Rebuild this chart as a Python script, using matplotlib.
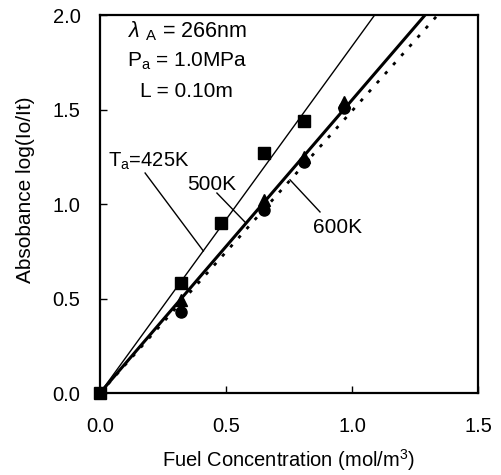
import matplotlib
matplotlib.use("Agg")
import matplotlib.pyplot as plt

plt.rcParams["font.family"] = ["Liberation Sans", "DejaVu Sans"]
plt.rcParams["mathtext.fontset"] = "custom"
plt.rcParams["mathtext.rm"] = "Liberation Sans"
plt.rcParams["mathtext.it"] = "Liberation Sans:italic"

# measured points
conc_425 = [0.0, 0.32, 0.48, 0.65, 0.81]
abs_425 = [0.0, 0.58, 0.90, 1.27, 1.44]
conc_500 = [0.32, 0.65, 0.81, 0.97]
abs_500 = [0.49, 1.02, 1.25, 1.54]
conc_600 = [0.32, 0.65, 0.81, 0.97]
abs_600 = [0.43, 0.97, 1.22, 1.51]

# fitted lines (end points)
fit_425_x = [0.0, 1.09]
fit_425_y = [0.0, 2.0]
fit_500_x = [0.0, 1.29]
fit_500_y = [0.0, 2.0]
fit_600_x = [0.0, 1.34]
fit_600_y = [0.0, 2.0]

xticks = [0.0, 0.5, 1.0, 1.5]
yticks = [0.0, 0.5, 1.0, 1.5, 2.0]

fig = plt.figure(figsize=(5.01, 4.75), dpi=100)
ax = fig.add_axes([0.1996, 0.1726, 0.7545, 0.7958])

ax.plot(fit_425_x, fit_425_y, color="black", linewidth=1.0)
ax.plot(fit_500_x, fit_500_y, color="black", linewidth=2.2)
ax.plot(fit_600_x, fit_600_y, color="black", linewidth=2.0, linestyle=(0, (1.2, 3.2)))

ax.plot(conc_425, abs_425, "s", color="black", markersize=8, clip_on=False)
ax.plot(conc_500, abs_500, "^", color="black", markersize=8)
ax.plot(conc_600, abs_600, "o", color="black", markersize=8)

ax.set_xlim(0, 1.5)
ax.set_ylim(0, 2.0)
ax.set_xticks(xticks)
ax.set_yticks(yticks)
ax.set_xticklabels([f"{v:.1f}" for v in xticks], fontsize=14.5)
ax.set_yticklabels([f"{v:.1f}" for v in yticks], fontsize=14.5)
ax.tick_params(direction="in", length=5, width=1, pad=14)
ax.tick_params(axis="x", pad=17)
for side in ax.spines.values():
    side.set_linewidth(1.6)

ax.set_xlabel("Fuel Concentration (mol/m$^3$)", fontsize=14.5)
ax.xaxis.set_label_coords(0.5, -0.143)
ax.set_ylabel("Absobance log(Io/It)", fontsize=15)
ax.yaxis.set_label_coords(-0.172, 0.537)

ax.text(0.111, 1.884, r"$\lambda$ $_{\rm A}$ = 266nm", fontsize=15.5, ha="left", va="baseline")
ax.text(0.107, 1.725, r"P$_{\rm a}$ = 1.0MPa", fontsize=15, ha="left", va="baseline")
ax.text(0.159, 1.566, "L = 0.10m", fontsize=15, ha="left", va="baseline")

ax.text(0.032, 1.196, r"T$_{\rm a}$=425K", fontsize=14.5, ha="left", va="baseline")
ax.plot([0.179, 0.41], [1.164, 1.833 * 0.41], color="black", linewidth=1.0)
ax.text(0.345, 1.074, "500K", fontsize=15, ha="left", va="baseline")
ax.plot([0.464, 0.575], [1.058, 0.905], color="black", linewidth=1.0)
ax.text(0.845, 0.847, "600K", fontsize=15, ha="left", va="baseline")
ax.plot([0.754, 0.873], [1.128, 0.958], color="black", linewidth=1.0)

fig.savefig("out.png", dpi=100, facecolor="white")
